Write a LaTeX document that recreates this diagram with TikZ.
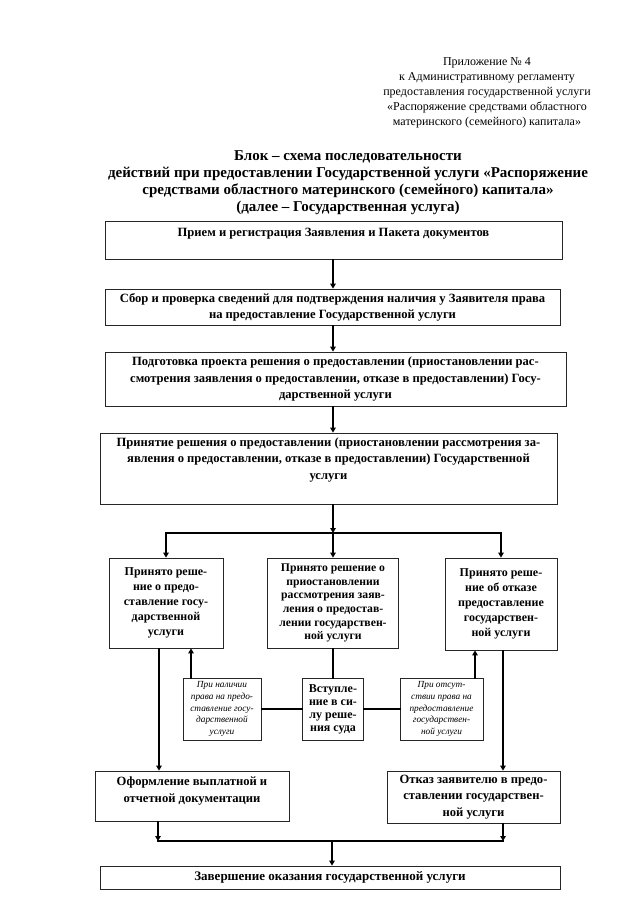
\documentclass[tikz,border=0pt]{standalone}
\usepackage{fontspec}
\setmainfont{Liberation Serif}
\usetikzlibrary{arrows.meta}
\begin{document}
\begin{tikzpicture}[x=1pt,y=-1pt,
  box/.style={draw=black!85, line width=0.8pt, align=center, inner sep=2pt,
    font=\bfseries\fontsize{12.6}{16.3}\selectfont},
  midbox/.style={box, font=\bfseries\fontsize{12}{15}\selectfont},
  smallbox/.style={draw=black!85, line width=0.8pt, align=center, inner sep=1pt,
    font=\itshape\fontsize{9.3}{11.7}\selectfont},
  arr/.style={line width=1.8pt, line cap=rect, -{Triangle[length=5pt,width=5.5pt]}},
  ln/.style={line width=1.8pt, line cap=rect}]
\useasboundingbox (0,0) rectangle (640,905);
\coordinate (axis) at (333,0);

% header
\node[font=\fontsize{12}{15}\selectfont, align=center] (hdr) at (487,93)
  {Приложение №~4\\к Административному регламенту\\предоставления государственной услуги\\«Распоряжение средствами областного\\материнского (семейного) капитала»};
\node[font=\bfseries\fontsize{15}{17}\selectfont, align=center] (ttl) at (348,183)
  {Блок – схема последовательности\\действий при предоставлении Государственной услуги «Распоряжение\\средствами областного материнского (семейного) капитала»\\(далее – Государственная услуга)};

% main boxes
\node[box, minimum width=457pt, minimum height=38pt, text depth=16pt] (b1) at (333.5,240)
  {Прием и регистрация Заявления и Пакета документов};
\node[box, minimum width=455pt, minimum height=36pt] (b2) at (332.5,307)
  {Сбор и проверка сведений для подтверждения наличия у Заявителя права\\на предоставление Государственной услуги};
\node[box, minimum width=461pt, minimum height=54pt] (b3) at (335.5,379)
  {Подготовка проекта решения о предоставлении (приостановлении рас-\\смотрения заявления о предоставлении, отказе в предоставлении) Госу-\\дарственной услуги};
\node[box, minimum width=457pt, minimum height=71pt, text depth=20pt] (b4) at (328.5,468.5)
  {Принятие решения о предоставлении (приостановлении рассмотрения за-\\явления о предоставлении, отказе в предоставлении) Государственной\\услуги};

% decision boxes
\node[midbox, minimum width=114pt, minimum height=90pt] (L) at (166,603)
  {Принято реше-\\ние о предо-\\ставление госу-\\дарственной\\услуги};
\node[midbox, font=\bfseries\fontsize{11.7}{13.7}\selectfont, minimum width=131pt, minimum height=90pt] (M) at (333,603)
  {Принято решение о\\приостановлении\\рассмотрения заяв-\\ления о предостав-\\лении государствен-\\ной услуги};
\node[midbox, minimum width=112pt, minimum height=92pt] (R) at (501,604)
  {Принято реше-\\ние об отказе\\предоставление\\государствен-\\ной услуги};

% small boxes
\node[smallbox, minimum width=78pt, minimum height=62pt] (SL) at (222,709)
  {При наличии\\права на предо-\\ставление госу-\\дарственной\\услуги};
\node[box, font=\bfseries\fontsize{12}{13}\selectfont, minimum width=61pt, minimum height=62pt] (SM) at (333,709)
  {Вступле-\\ние в си-\\лу реше-\\ния суда};
\node[smallbox, minimum width=83pt, minimum height=62pt] (SR) at (441.5,709)
  {При отсут-\\ствии права на\\предоставление\\государствен-\\ной услуги};

% result boxes
\node[box, minimum width=194pt, minimum height=50pt, text depth=13pt] (O) at (192,796)
  {Оформление выплатной и\\отчетной документации};
\node[box, minimum width=173pt, minimum height=52pt] (K) at (473.5,797)
  {Отказ заявителю в предо-\\ставлении государствен-\\ной услуги};
\node[box, font=\bfseries\fontsize{13}{14}\selectfont, minimum width=460pt, minimum height=23pt] (Z) at (330,877.5)
  {Завершение оказания государственной услуги};

% connectors
\draw[arr] (b1.south -| axis) -- (b2.north -| axis);
\draw[arr] (b2.south -| axis) -- (b3.north -| axis);
\draw[arr] (b3.south -| axis) -- (b4.north -| axis);
\coordinate (j1) at (333,533);
\draw[arr] (b4.south -| axis) -- (j1);
\draw[ln] (j1 -| L.north) -- (j1 -| R.north);
\draw[arr] (j1 -| L.north) -- (L.north);
\draw[arr] (j1) -- (j1 |- M.north);
\draw[arr] (j1 -| R.north) -- (R.north);

\draw[arr] ([xshift=-7pt]L.south) -- ([xshift=-7pt]L.south |- O.north);
\draw[arr] ([xshift=-31pt]SL.north) -- ([xshift=-31pt]SL.north |- L.south);
\draw[ln] (M.south -| SM.north) -- (SM.north);
\draw[ln] (SL.east) -- (SM.west);
\draw[ln] (SM.east) -- (SR.west);
\draw[arr] ([xshift=33.5pt]SR.north) -- ([xshift=33.5pt]SR.north |- R.south);
\draw[arr] ([xshift=2pt]R.south) -- ([xshift=2pt]R.south |- K.north);

\coordinate (j2) at (332,841);
\draw[arr] ([xshift=-34pt]O.south) -- ([xshift=-34pt]O.south |- j2);
\draw[arr] ([xshift=29.5pt]K.south) -- ([xshift=29.5pt]K.south |- j2);
\draw[ln] ([xshift=-34pt]O.south |- j2) -- ([xshift=29.5pt]K.south |- j2);
\draw[arr] (j2) -- (j2 |- Z.north);
\end{tikzpicture}
\end{document}
